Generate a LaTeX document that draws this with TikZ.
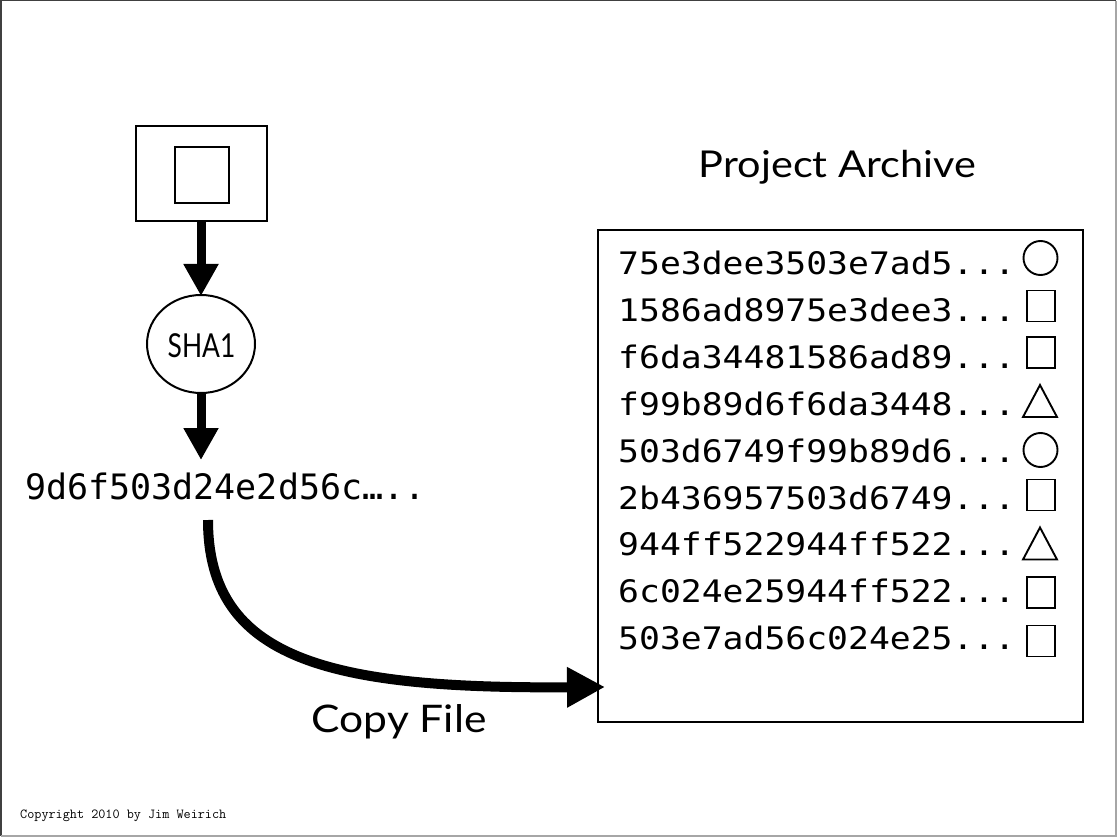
\documentclass[tikz,border=0pt]{standalone}
\usepackage{fontspec}
\setmainfont{Lato}
\newfontfamily\gill[FakeStretch=1.12]{Lato}
\newfontfamily\gillnarrow[FakeStretch=0.8]{Lato}
\newfontfamily\hashfont{DejaVu Sans Mono}
\newfontfamily\listfont[FakeStretch=1.12]{DejaVu Sans Mono}
\usetikzlibrary{arrows.meta,shapes.geometric}
\begin{document}
\begin{tikzpicture}[x=1pt,y=-1pt,
  thin line/.style={draw=black,line width=2pt},
  boxnode/.style={thin line,rectangle,inner sep=0pt},
  symline/.style={draw=black,line width=1.9pt},
  bigarrow/.style={line width=9pt,-{Triangle[length=32pt,width=33pt]}},
  curvearrow/.style={line width=10pt,-{Triangle[length=38pt,width=38pt]}},
  rowtext/.style={anchor=base west,inner sep=0pt,font=\listfont\fontsize{31}{31}\selectfont},
  circsym/.style={symline,circle,minimum size=34pt,inner sep=0pt},
  sqsym/.style={symline,rectangle,minimum width=28pt,minimum height=31pt,inner sep=0pt},
  trisym/.pic={\draw[symline,line join=miter] (-17,16)--(17,16)--(0,-16)--cycle;}
]
\useasboundingbox (0,0) rectangle (1117,837);
% frame
\draw[black!75,line width=1.5pt] (0.75,836) -- (0.75,0.75) -- (1116,0.75);
\draw[gray!70,line width=2pt] (1116,0.75) -- (1116,836) -- (0.75,836);

% source file box
\node[boxnode,minimum width=131pt,minimum height=95pt] (file) at (201.5,173.5) {};
\node[boxnode,minimum width=54pt,minimum height=56pt] (inner) at (202,175) {};

% SHA1
\node[thin line,ellipse,minimum width=108pt,minimum height=98pt,inner sep=0pt] (sha) at (201,344) {};
\node[anchor=base,inner sep=0pt,font=\gillnarrow\fontsize{33}{33}\selectfont] (shatext) at (201.5,357) {SHA1};

% hash
\node[anchor=base west,inner sep=0pt,font=\hashfont\fontsize{35}{35}\selectfont] (hash) at (25,499) {9d6f503d24e2d56c…..};

\draw[bigarrow] (file.south -| sha.north) -- ([yshift=-2pt]sha.north);
\draw[bigarrow] (sha.south) -- (sha.south |- 0,460);

% archive
\node[anchor=base,inner sep=0pt,font=\gill\fontsize{37}{37}\selectfont] (title) at (837.5,178) {Project Archive};
\node[boxnode,minimum width=485pt,minimum height=492pt] (archive) at (840.5,476) {};

\node[rowtext] (r1) at (618,275) {75e3dee3503e7ad5...};
\node[rowtext] (r2) at (618,321.8) {1586ad8975e3dee3...};
\node[rowtext] (r3) at (618,368.6) {f6da34481586ad89...};
\node[rowtext] (r4) at (618,415.4) {f99b89d6f6da3448...};
\node[rowtext] (r5) at (618,462.2) {503d6749f99b89d6...};
\node[rowtext] (r6) at (618,509) {2b436957503d6749...};
\node[rowtext] (r7) at (618,555.8) {944ff522944ff522...};
\node[rowtext] (r8) at (618,602.6) {6c024e25944ff522...};
\node[rowtext] (r9) at (618,649.4) {503e7ad56c024e25...};

\node[circsym] (s1) at (1040.5,258) {};
\node[sqsym] (s2) at (1041,306) {};
\node[sqsym] (s3) at (1041,352.5) {};
\pic at (1040,401) {trisym};
\node[circsym] (s5) at (1040.5,450) {};
\node[sqsym] (s6) at (1041,495) {};
\pic at (1040,543.5) {trisym};
\node[sqsym] (s8) at (1041,592.5) {};
\node[sqsym] (s9) at (1041,641) {};

% copy arrow
\coordinate (cstart) at (208,520);
\coordinate (cend) at (605,687);
\draw[curvearrow] (cstart) .. controls (208,660) and (330,689) .. (cend);
\node[anchor=base,inner sep=0pt,font=\gill\fontsize{38}{38}\selectfont] (copy) at (399,732) {Copy File};

% copyright
\node[anchor=base west,inner sep=0pt,font=\ttfamily\fontsize{13.8}{14}\selectfont] (cr) at (20,818) {Copyright 2010 by Jim Weirich};
\end{tikzpicture}
\end{document}
